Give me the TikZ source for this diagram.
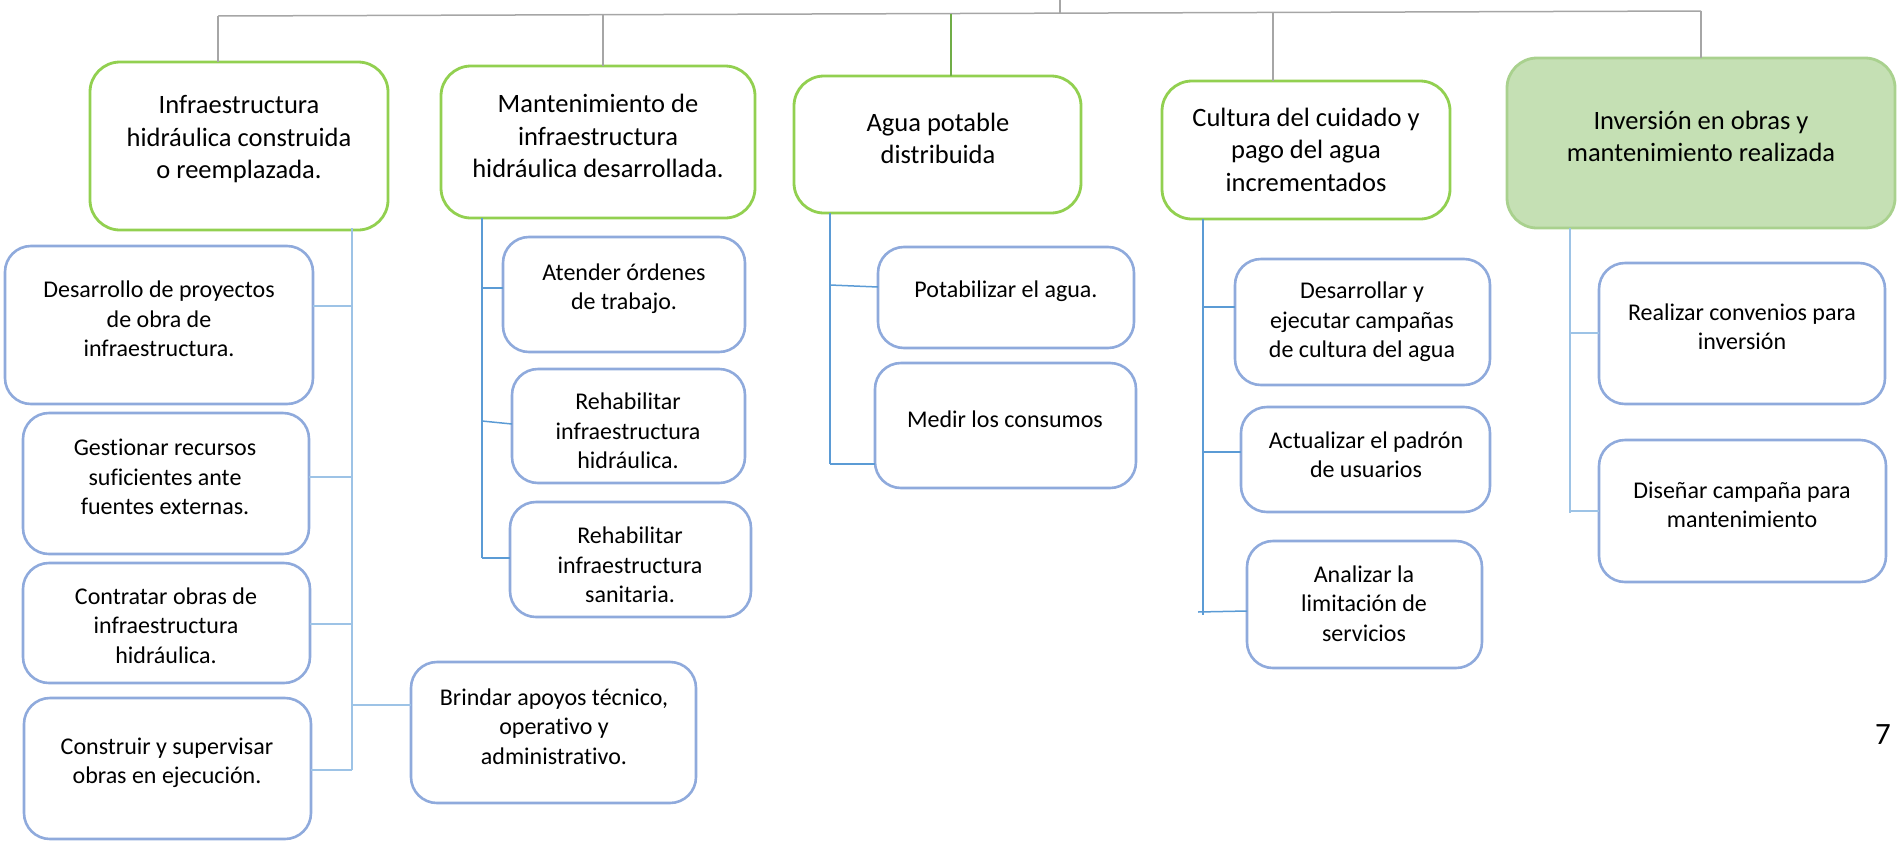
\documentclass[tikz,border=0pt]{standalone}
\usepackage{fontspec}
\setmainfont{Carlito}[Ligatures={NoCommon}]
\definecolor{grn}{RGB}{146,208,80}
\definecolor{grnfill}{RGB}{197,224,180}
\definecolor{grnedge}{RGB}{169,209,142}
\definecolor{bbord}{RGB}{143,170,220}
\definecolor{blk}{RGB}{91,155,213}
\definecolor{lblk}{RGB}{157,195,230}
\definecolor{gry}{RGB}{166,166,166}
\definecolor{gstem}{RGB}{112,173,71}
\tikzset{
  mainbox/.style={draw=grn, line width=2.8pt, rounded corners=30pt, fill=white, inner sep=0pt, outer sep=0pt},
  invbox/.style={draw=grnedge, line width=2.8pt, rounded corners=30pt, fill=grnfill, inner sep=0pt, outer sep=0pt},
  subbox/.style={draw=bbord, line width=2.6pt, rounded corners=26pt, fill=white, inner sep=0pt, outer sep=0pt},
  maintext/.style={align=center, inner sep=0pt, font=\fontsize{26.5}{32.5}\selectfont},
  subtext/.style={align=center, inner sep=0pt, font=\fontsize{24}{29.3}\selectfont},
  glink/.style={draw=gry, line width=1.5pt},
  gslink/.style={draw=gstem, line width=1.5pt},
  blink/.style={draw=blk, line width=1.5pt},
  lblink/.style={draw=lblk, line width=1.5pt},
}
\begin{document}
\begin{tikzpicture}[x=1pt,y=-1pt]
\useasboundingbox (0,0) rectangle (1901,841);
% ---------- main boxes ----------
\node[mainbox, minimum width=298, minimum height=168] (b1) at (239,146) {};
\node[maintext] (b1t) at (239,139.5) {Infraestructura\\hidráulica construida\\o reemplazada.};
\node[mainbox, minimum width=314, minimum height=152] (b2) at (598,142) {};
\node[maintext] (b2t) at (598,136) {Mantenimiento de\\infraestructura\\hidráulica desarrollada.};
\node[mainbox, minimum width=287, minimum height=137] (b3) at (937.5,144.5) {};
\node[maintext] (b3t) at (938,138.5) {Agua potable\\distribuida};
\node[mainbox, minimum width=288, minimum height=138] (b4) at (1306,150) {};
\node[maintext] (b4t) at (1306,149.5) {Cultura del cuidado y\\pago del agua\\incrementados};
\node[invbox, minimum width=388, minimum height=170] (b5) at (1701,143) {};
\node[maintext] (b5t) at (1701,136.5) {Inversión en obras y\\mantenimiento realizada};
% ---------- top connectors ----------
\coordinate (stub) at (1060,0);
\coordinate (tl) at (218,16);
\coordinate (tr) at (1701,11);
\coordinate (t2) at (603,14.7);
\coordinate (t3) at (951,13.5);
\coordinate (ts) at (1060,13.2);
\coordinate (t4) at (1273,12.4);
\draw[glink] (tl) -- (tr);
\draw[glink] (stub) -- (ts);
\draw[glink] (tl) -- (tl |- b1.north);
\draw[glink] (t2) -- (t2 |- b2.north);
\draw[gslink] (t3) -- (t3 |- b3.north);
\draw[glink] (t4) -- (t4 |- b4.north);
\draw[glink] (tr) -- (b5.north);
% ---------- group 1 ----------
\node[subbox, minimum width=308, minimum height=158] (d1) at (159,325) {};
\node[subtext] (d1t) at (159,319) {Desarrollo de proyectos\\de obra de\\infraestructura.};
\node[subbox, minimum width=286, minimum height=141] (d2) at (166,483.5) {};
\node[subtext] (d2t) at (165,477) {Gestionar recursos\\suficientes ante\\fuentes externas.};
\node[subbox, minimum width=287, minimum height=120] (d3) at (166.5,623) {};
\node[subtext] (d3t) at (166,625.5) {Contratar obras de\\infraestructura\\hidráulica.};
\node[subbox, minimum width=287, minimum height=141] (d4) at (167.5,768.5) {};
\node[subtext] (d4t) at (167,762.5) {Construir y supervisar\\obras en ejecución.};
\node[subbox, minimum width=285, minimum height=141] (d5) at (553.5,732.5) {};
\node[subtext] (d5t) at (554,726.5) {Brindar apoyos técnico,\\operativo y\\administrativo.};
\coordinate (v1a) at (352,228);
\coordinate (v1b) at (352,770);
\coordinate (j11) at (352,306);
\coordinate (j12) at (352,477);
\coordinate (j13) at (352,624);
\coordinate (j15) at (352,705);
\draw[lblink] (v1a) -- (v1b);
\draw[lblink] (j11) -- (j11 -| d1.east);
\draw[lblink] (j12) -- (j12 -| d2.east);
\draw[lblink] (j13) -- (j13 -| d3.east);
\draw[lblink] (v1b) -- (v1b -| d4.east);
\draw[lblink] (j15) -- (j15 -| d5.west);
% ---------- group 2 ----------
\node[subbox, minimum width=242, minimum height=115] (m1) at (624,294.5) {};
\node[subtext] (m1t) at (624,288.5) {Atender órdenes\\de trabajo.};
\node[subbox, minimum width=233, minimum height=114] (m2) at (628.5,426) {};
\node[subtext] (m2t) at (628,431) {Rehabilitar\\infraestructura\\hidráulica.};
\node[subbox, minimum width=241, minimum height=115] (m3) at (630.5,559.5) {};
\node[subtext] (m3t) at (630,565) {Rehabilitar\\infraestructura\\sanitaria.};
\coordinate (v2a) at (482,218);
\coordinate (v2b) at (482,558);
\coordinate (j21) at (482,288);
\coordinate (j22) at (482,421);
\draw[blink] (v2a) -- (v2b);
\draw[blink] (j21) -- (j21 -| m1.west);
\draw[blink] (j22) -- ([yshift=-3pt]j22 -| m2.west);
\draw[blink] (v2b) -- (v2b -| m3.west);
% ---------- group 3 ----------
\node[subbox, minimum width=256, minimum height=101] (a1) at (1006,297.5) {};
\node[subtext] (a1t) at (1006,291) {Potabilizar el agua.};
\node[subbox, minimum width=261, minimum height=125] (a2) at (1005.5,425.5) {};
\node[subtext] (a2t) at (1005,419) {Medir los consumos};
\coordinate (v3a) at (830,213);
\coordinate (v3b) at (830,464);
\coordinate (j31) at (830,285);
\draw[blink] (v3a) -- (v3b);
\draw[blink] (j31) -- ([yshift=-2pt]j31 -| a1.west);
\draw[blink] (v3b) -- (v3b -| a2.west);
% ---------- group 4 ----------
\node[subbox, minimum width=255, minimum height=126] (c1) at (1362.5,322) {};
\node[subtext] (c1t) at (1362,322) {Desarrollar y\\ejecutar campañas\\de cultura del agua};
\node[subbox, minimum width=249, minimum height=105] (c2) at (1365.5,459.5) {};
\node[subtext] (c2t) at (1366,454.5) {Actualizar el padrón\\de usuarios};
\node[subbox, minimum width=235, minimum height=127] (c3) at (1364.5,604.5) {};
\node[subtext] (c3t) at (1364,603.5) {Analizar la\\limitación de\\servicios};
\coordinate (v4a) at (1203,219);
\coordinate (v4b) at (1203,615);
\coordinate (j41) at (1203,307);
\coordinate (j42) at (1203,452);
\coordinate (j43) at (1198,612);
\draw[blink] (v4a) -- (v4b);
\draw[blink] (j41) -- (j41 -| c1.west);
\draw[blink] (j42) -- (j42 -| c2.west);
\draw[blink] (j43) -- ([yshift=1pt]j43 -| c3.west);
% ---------- group 5 ----------
\node[subbox, minimum width=286, minimum height=141] (i1) at (1742,333.5) {};
\node[subtext] (i1t) at (1742,326.5) {Realizar convenios para\\inversión};
\node[subbox, minimum width=287, minimum height=142] (i2) at (1742.5,511) {};
\node[subtext] (i2t) at (1742,504.5) {Diseñar campaña para\\mantenimiento};
\coordinate (v5a) at (1570,228);
\coordinate (v5b) at (1570,513);
\coordinate (j51) at (1570,333);
\coordinate (j52) at (1570,511);
\draw[lblink] (v5a) -- (v5b);
\draw[lblink] (j51) -- (j51 -| i1.west);
\draw[lblink] (j52) -- (j52 -| i2.west);
% ---------- page number ----------
\node[inner sep=0pt, font=\fontsize{31}{37}\selectfont] (pg) at (1883,735) {7};
\end{tikzpicture}
\end{document}
